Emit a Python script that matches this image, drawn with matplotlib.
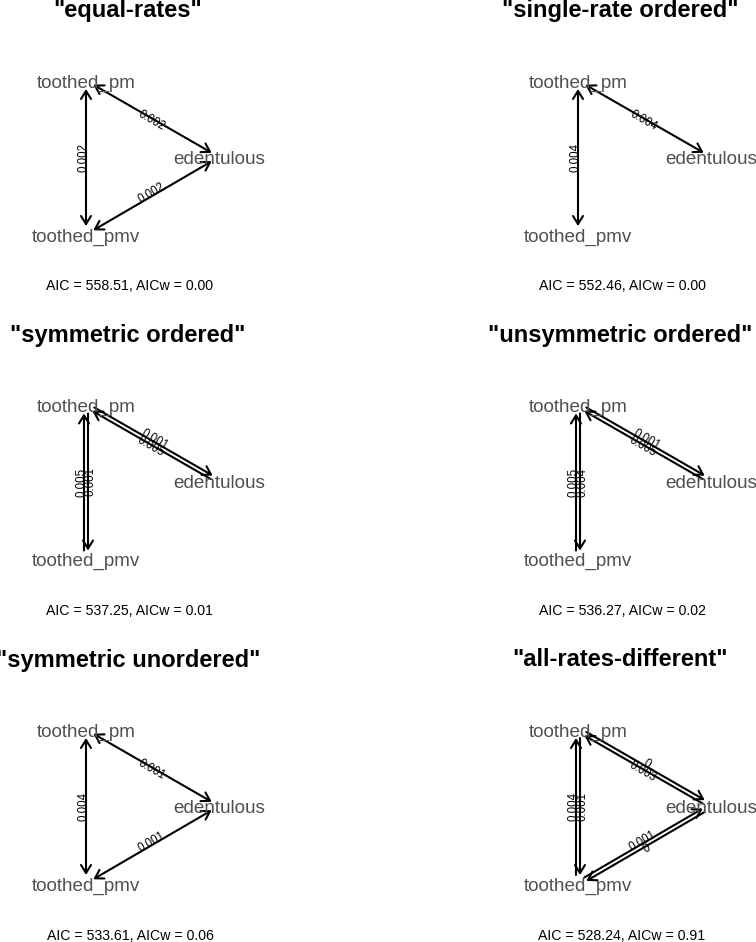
import numpy as np
import matplotlib
matplotlib.use('Agg')
import matplotlib.pyplot as plt
from matplotlib.patches import FancyArrowPatch

plt.rcParams['font.family'] = ['Liberation Sans', 'DejaVu Sans']

nan = np.nan

states = ['toothed_pm', 'edentulous', 'toothed_pmv']
models = ['equal-rates', 'single-rate ordered', 'symmetric ordered',
          'unsymmetric ordered', 'symmetric unordered', 'all-rates-different']
aic = [558.51, 552.46, 537.25, 536.27, 533.61, 528.24]
aicw = [0.00, 0.00, 0.01, 0.02, 0.06, 0.91]

# q[i][j] = rate from state i to state j (nan = transition not in model)
q_equal = [[nan, 0.002, 0.002], [0.002, nan, 0.002], [0.002, 0.002, nan]]
q_single = [[nan, 0.004, 0.004], [0.004, nan, nan], [0.004, nan, nan]]
q_sym_ord = [[nan, 0.001, 0.001], [0.005, nan, nan], [0.005, nan, nan]]
q_unsym_ord = [[nan, 0.001, 0.004], [0.005, nan, nan], [0.005, nan, nan]]
q_sym_unord = [[nan, 0.001, 0.004], [0.001, nan, 0.001], [0.004, 0.001, nan]]
q_ard = [[nan, 0.0, 0.001], [0.003, nan, 0.0], [0.004, 0.001, nan]]
q_all = [q_equal, q_single, q_sym_ord, q_unsym_ord, q_sym_unord, q_ard]

# layout, in pixels inside one panel (y grows downwards)
W, H = 756, 942
panel_w, panel_h = 264, 324.5
col_x = [0, 492]
node_xy = np.array([[86, 80.5], [219, 157], [86, 234.5]])
shrink = 0.055
node_col = '#505050'
arrow_kw = dict(mutation_scale=10, lw=1.5, color='black',
                shrinkA=0, shrinkB=0, clip_on=False)


def fmt(v):
    return f'{round(v, 3):g}'


def label(ax, xy, d, txt):
    ang = np.degrees(np.arctan2(-d[1], d[0]))
    if ang > 90:
        ang -= 180
    if ang <= -90:
        ang += 180
    ax.text(xy[0], xy[1], txt, fontsize=8.3, rotation=ang, rotation_mode='anchor',
            ha='center', va='center', clip_on=False)


fig = plt.figure(figsize=(W / 100, H / 100), dpi=100)

for k, name in enumerate(models):
    r, c = divmod(k, 2)
    ax = fig.add_axes([col_x[c] / W, 1 - (r + 1) * panel_h / H, panel_w / W, panel_h / H])
    ax.set_xlim(0, panel_w)
    ax.set_ylim(panel_h, 0)
    ax.axis('off')
    Q = q_all[k]

    for i in range(3):
        for j in range(i + 1, 3):
            qij, qji = Q[i][j], Q[j][i]
            if np.isnan(qij) and np.isnan(qji):
                continue
            p_i, p_j = node_xy[i], node_xy[j]
            d = p_j - p_i
            u = d / np.hypot(*d)
            nrm = np.array([u[1], -u[0]])  # left of travel i->j on screen
            a = p_i + shrink * d
            b = p_j - shrink * d
            mid = (a + b) / 2
            if qij == qji:
                ax.add_patch(FancyArrowPatch(a, b, arrowstyle='<->,head_length=0.58,head_width=0.36', **arrow_kw))
                label(ax, mid - nrm * 2.5, d, fmt(qij))
            else:
                for val, sgn, s, e in [(qij, 1, a, b), (qji, -1, b, a)]:
                    if np.isnan(val):
                        continue
                    off = sgn * nrm
                    ax.add_patch(FancyArrowPatch(s + off * 2, e + off * 2,
                                                 arrowstyle='->,head_length=0.58,head_width=0.36', **arrow_kw))
                    label(ax, mid + off * 4.5, d, fmt(val))

    for s, (x, y) in zip(states, node_xy):
        ax.text(x, y + 7, s, fontsize=13.6, color=node_col, ha='center', va='baseline', clip_on=False)

    ax.text(128, 17.5, f'"{name}"', fontsize=17, fontweight='bold',
            ha='center', va='baseline', clip_on=False)
    ax.text(130, 290.5, f'AIC = {aic[k]:.2f}, AICw = {aicw[k]:.2f}', fontsize=10.2,
            ha='center', va='baseline', clip_on=False)

fig.savefig('out.png', dpi=100)
